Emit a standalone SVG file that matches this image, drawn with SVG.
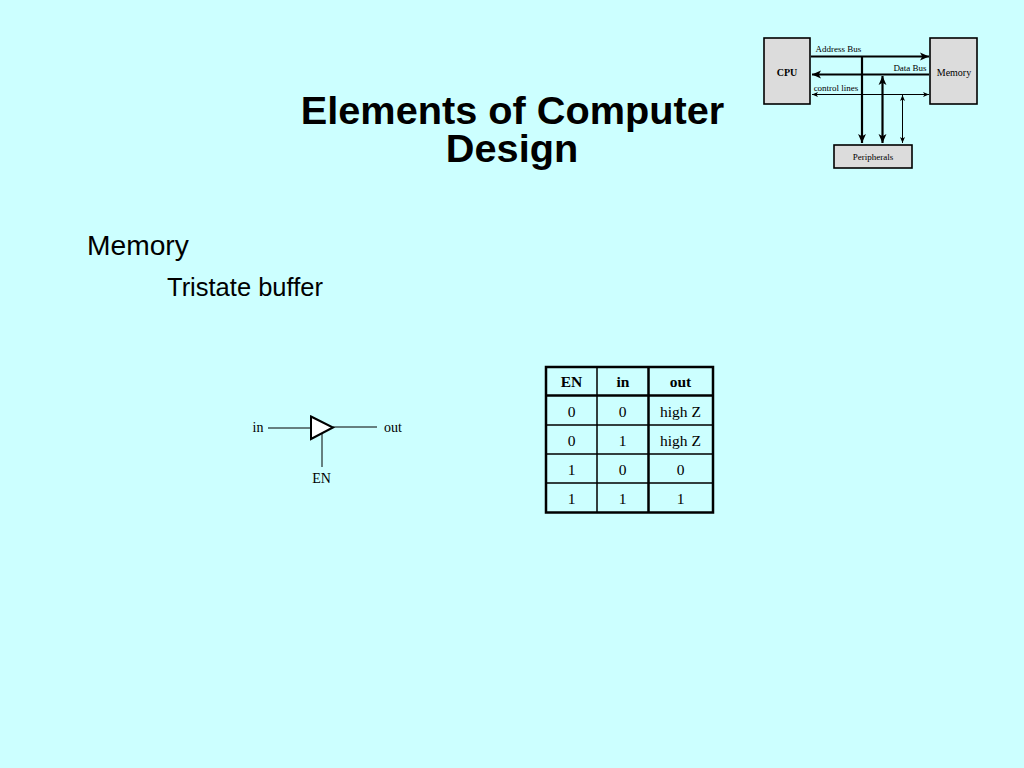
<svg xmlns="http://www.w3.org/2000/svg" width="1024" height="768" viewBox="0 0 1024 768">
<style>
.s{font-family:"Liberation Sans",Arial,sans-serif;fill:#000}
.t{font-family:"Liberation Serif","Times New Roman",serif;fill:#000;text-anchor:middle}
.box{fill:#dcdcdc;stroke:#000;stroke-width:1.600}
.c{fill:none;stroke:#000}
.tb{fill:none;stroke:#000;stroke-width:1.500}
.tB{fill:none;stroke:#000;stroke-width:2.500}
</style>
<defs>
<marker id="a" viewBox="0 0 8 8" refX="8" refY="4" markerWidth="9" markerHeight="9" markerUnits="userSpaceOnUse" orient="auto-start-reverse"><path d="M0,0.5 L8,4 L0,7.5 L2,4 Z" fill="#000"/></marker>
<marker id="b" viewBox="0 0 6 6" refX="6" refY="3" markerWidth="6" markerHeight="6" markerUnits="userSpaceOnUse" orient="auto-start-reverse"><path d="M0,0.5 L6,3 L0,5.500 L1.500,3 Z" fill="#000"/></marker>
</defs>
<rect width="1024" height="768" fill="#ccffff"/>
<text class="s" x="512.500" y="123.500" font-size="39.700" font-weight="bold" text-anchor="middle">Elements of Computer</text>
<text class="s" x="512" y="161.500" font-size="39.700" font-weight="bold" text-anchor="middle">Design</text>
<text class="s" x="87" y="254.500" font-size="28.200">Memory</text>
<text class="s" x="167" y="296" font-size="25.500">Tristate buffer</text>

<g id="connectors">
<path class="c" stroke-width="2.200" d="M811,56.500 H929" marker-end="url(#a)"/>
<path class="c" stroke-width="2.200" d="M929,74.500 H812" marker-end="url(#a)"/>
<path class="c" stroke-width="1" d="M812,94.500 H929" marker-start="url(#b)" marker-end="url(#b)"/>
<path class="c" stroke-width="2.200" d="M862,57 V143" marker-end="url(#a)"/>
<path class="c" stroke-width="2.200" d="M882.500,76 V143" marker-start="url(#a)" marker-end="url(#a)"/>
<path class="c" stroke-width="1" d="M902.500,95 V143" marker-start="url(#b)" marker-end="url(#b)"/>
<path class="c" stroke-width="1" d="M268,428 H311"/>
<path class="c" stroke-width="1" d="M333,427 H377"/>
<path class="c" stroke-width="1" d="M322,434 V467"/>
</g>

<g id="cpu"><rect class="box" x="764" y="38" width="46" height="66"/><text class="t" x="787" y="76" font-size="10" font-weight="bold">CPU</text></g>
<g id="memory"><rect class="box" x="930" y="38" width="47" height="66"/><text class="t" x="954" y="76" font-size="10">Memory</text></g>
<g id="peripherals"><rect class="box" x="834" y="145" width="78" height="23"/><text class="t" x="873" y="160" font-size="9">Peripherals</text></g>
<g id="bus-labels">
<text class="t" x="838.500" y="52" font-size="9">Address Bus</text>
<text class="t" x="910" y="71" font-size="9">Data Bus</text>
<text class="t" x="836" y="91" font-size="9">control lines</text>
</g>

<g id="buffer">
<path d="M311,416.500 L333,427.500 L311,439 Z" fill="#fff" stroke="#000" stroke-width="2"/>
<text class="t" x="258" y="432" font-size="14">in</text>
<text class="t" x="393" y="432" font-size="14">out</text>
<text class="t" x="321.500" y="483" font-size="14">EN</text>
</g>

<g id="truth-table">
<rect class="tB" x="546" y="367" width="167" height="145.500"/>
<path class="tb" d="M597,367 V512.500 M546,425 H713 M546,454 H713 M546,483 H713"/>
<path class="tB" d="M648.500,367 V512.500 M546,395.500 H713"/>
<g font-size="15.500">
<text class="t" x="571.500" y="387" font-weight="bold">EN</text><text class="t" x="623" y="387" font-weight="bold">in</text><text class="t" x="680.500" y="387" font-weight="bold">out</text>
<text class="t" x="571.500" y="416.500">0</text><text class="t" x="622.500" y="416.500">0</text><text class="t" x="680.500" y="416.500">high Z</text>
<text class="t" x="571.500" y="445.500">0</text><text class="t" x="622.500" y="445.500">1</text><text class="t" x="680.500" y="445.500">high Z</text>
<text class="t" x="571.500" y="474.500">1</text><text class="t" x="622.500" y="474.500">0</text><text class="t" x="680.500" y="474.500">0</text>
<text class="t" x="571.500" y="503.500">1</text><text class="t" x="622.500" y="503.500">1</text><text class="t" x="680.500" y="503.500">1</text>
</g>
</g>
</svg>
